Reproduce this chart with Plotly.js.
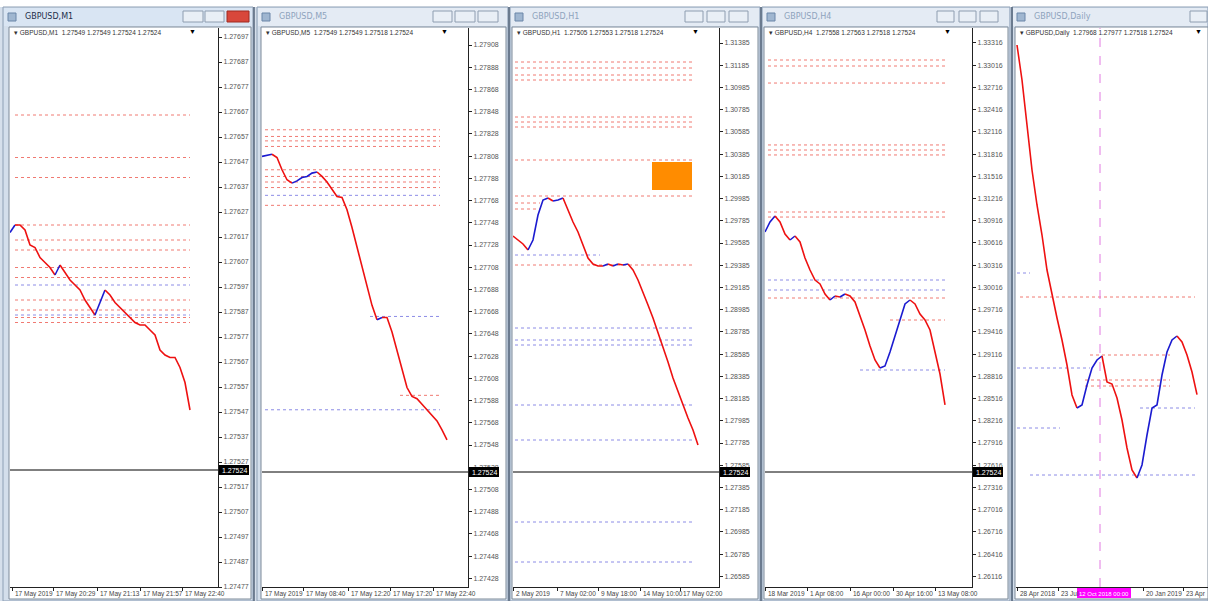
<!DOCTYPE html>
<html><head><meta charset="utf-8">
<script src="https://cdn.plot.ly/plotly-3.0.1.min.js"></script>
<style>html,body{margin:0;padding:0;background:#fff;}#chart{width:1208px;height:601px;}</style>
</head><body><div id="chart"></div>
<script>
// ---------------- DATA ----------------
const symbol = "GBPUSD";
const timeframes = ["M1", "M5", "H1", "H4", "Daily"];
const headerQuotes = [
  "1.27549 1.27549 1.27524 1.27524",
  "1.27549 1.27549 1.27518 1.27524",
  "1.27505 1.27553 1.27518 1.27524",
  "1.27558 1.27563 1.27518 1.27524",
  "1.27968 1.27977 1.27518 1.27524"
];
const bid = 1.27524;

// closing prices (one value per sampled bar)
const p1Close = [1.27619,1.27622,1.27622,1.27620,1.27614,1.27613,1.27609,1.27607,1.27605,1.27602,1.27606,1.27603,1.27600,1.27598,1.27596,1.27592,1.27589,1.27586,1.27591,1.27596,1.27594,1.27591,1.27589,1.27587,1.27585,1.27583,1.27582,1.27582,1.27580,1.27578,1.27572,1.27570,1.27569,1.27569,1.27565,1.27559,1.27548];
const p2Close = [1.27808,1.27809,1.27810,1.27807,1.27796,1.27787,1.27784,1.27786,1.27789,1.27790,1.27793,1.27794,1.27790,1.27785,1.27778,1.27772,1.27771,1.27760,1.27744,1.27726,1.27708,1.27692,1.27674,1.27661,1.27663,1.27663,1.27650,1.27634,1.27616,1.27600,1.27592,1.27590,1.27585,1.27580,1.27574,1.27570,1.27562,1.27553];
const p3Close = [1.29648,1.29612,1.29576,1.29522,1.29612,1.29837,1.29972,1.29990,1.29963,1.29972,1.29990,1.29882,1.29774,1.29684,1.29567,1.29450,1.29396,1.29378,1.29378,1.29396,1.29378,1.29396,1.29387,1.29396,1.29342,1.29252,1.29144,1.29027,1.28910,1.28784,1.28640,1.28514,1.28370,1.28244,1.28127,1.28010,1.27902,1.27767];
const p4Close = [1.30764,1.30899,1.30980,1.30899,1.30737,1.30656,1.30710,1.30629,1.30413,1.30251,1.30116,1.30062,1.29927,1.29846,1.29900,1.29887,1.29927,1.29900,1.29819,1.29644,1.29441,1.29225,1.29036,1.28928,1.28955,1.29144,1.29360,1.29603,1.29792,1.29846,1.29792,1.29657,1.29576,1.29441,1.29144,1.28847,1.28429];
const p5Close = [1.43485,1.41910,1.39885,1.37860,1.36285,1.34935,1.33360,1.32235,1.31200,1.30210,1.29085,1.27735,1.27150,1.27285,1.28185,1.28950,1.29310,1.29490,1.28320,1.28230,1.27600,1.26610,1.25350,1.24360,1.24000,1.24585,1.25935,1.27150,1.27285,1.28635,1.29670,1.30210,1.30390,1.30120,1.29535,1.28770,1.27750];

// horizontal levels: [price, fromBar, toBar]
const p1Res = [[1.27666,1,36],[1.27649,1,36],[1.27641,1,36],[1.27622,1,36],[1.27616,1,36],[1.27612,1,36],[1.27605,1,36],[1.27601,1,36],[1.27592,1,36],[1.27588,1,36],[1.27585,1,36],[1.27583,1,36]];
const p1Sup = [[1.27598,1,36],[1.27586,1,36]];
const p2Res = [[1.27832,0.6,35.6],[1.27826,0.6,35.6],[1.27822,0.6,35.6],[1.27817,0.6,35.6],[1.27796,0.6,35.6],[1.27790,0.6,35.6],[1.27785,0.6,35.6],[1.27780,0.6,35.6],[1.27764,0.6,35.6],[1.27593,27.6,35.6]];
const p2Sup = [[1.27773,0.6,35.6],[1.27664,21.6,35.6],[1.27580,0.6,35.6]];
const p3Res = [[1.31214,0.4,36.4],[1.31160,0.4,36.4],[1.31097,0.4,36.4],[1.31052,0.4,36.4],[1.30719,0.4,36.4],[1.30674,0.4,36.4],[1.30629,0.4,36.4],[1.30332,0.4,36.4],[1.30008,0.4,36.4],[1.29945,0.4,5.4],[1.29891,0.4,5.4],[1.29387,0.4,36.4]];
const p3Sup = [[1.29477,0.4,17.4],[1.28820,0.4,36.4],[1.28712,0.4,36.4],[1.28667,0.4,36.4],[1.28127,0.4,36.4],[1.27812,0.4,36.4],[1.27074,0.4,36.4],[1.26714,0.4,36.4]];
const p4Res = [[1.33086,0.6,36],[1.33005,0.6,36],[1.32775,0.6,36],[1.31939,0.6,36],[1.31871,0.6,36],[1.31804,0.6,36],[1.31034,0.6,36],[1.30966,0.6,36],[1.29873,0.6,36],[1.29576,25,36]];
const p4Sup = [[1.30116,0.6,36],[1.29981,0.6,36],[1.28901,19,36]];
const p5Res = [[1.32145,0.6,35.6],[1.29535,14.6,30.6],[1.28410,13.6,30.6],[1.28140,13.6,30.6]];
const p5Sup = [[1.33225,0,2.6],[1.28950,0,14.6],[1.27150,24.6,35.6],[1.26250,0,8.6],[1.24135,2.6,35.6]];

// orange rectangle object on H1 chart: [fromBar, toBar, lowPrice, highPrice]
const p3Rect = [27.8, 35.8, 1.30062, 1.30314];
// vertical period separator on Daily chart (bar) and its label
const p5VLineBar = 16.6;
const p5VLineLabel = "12 Oct 2018 00:00";

// time axis labels
const p1TickBars = [0.4, 8.6, 17.4, 26, 34.4];
const p1TickText = ["17 May 2019", "17 May 20:29", "17 May 21:13", "17 May 21:57", "17 May 22:40"];
const p2TickBars = [0, 8.2, 17.2, 25.6, 34.2];
const p2TickText = ["17 May 2019", "17 May 08:40", "17 May 12:20", "17 May 17:20", "17 May 22:40"];
const p3TickBars = [0, 8.8, 17, 25.4, 33.4];
const p3TickText = ["2 May 2019", "7 May 02:00", "9 May 18:00", "14 May 10:00", "17 May 02:00"];
const p4TickBars = [0, 8.4, 17, 25.6, 34];
const p4TickText = ["18 Mar 2019", "1 Apr 08:00", "16 Apr 00:00", "30 Apr 16:00", "13 May 08:00"];
const p5TickBars = [0, 8.2, 25.2, 33.2];
const p5TickText = ["28 Apr 2018", "23 Jul", "20 Jan 2019", "23 Apr"];

// ---------------- LAYOUT ----------------
const W = 1208, H = 601;
const fx = p => p / W, fy = p => 1 - p / H;
const PT = 28, PB = 587;
const RED = "#ee1111", BLUE = "#1b1bd0";
const RES_C = "#f07a72", SUP_C = "#8c8ce6";

const panels = [
  {close:p1Close,res:p1Res,sup:p1Sup,tb:p1TickBars,tt:p1TickText,left:10,right:218,xr:[0,41.6],yr:[1.274772,1.277008],tick0:1.276972,dtick:0.0001,bidOn:true,win:[3,253],client:[9,251],btn:[[183,203],[205,224],[227,249]],active:true},
  {close:p2Close,res:p2Res,sup:p2Sup,tb:p2TickBars,tt:p2TickText,left:262,right:468,xr:[0,41.2],yr:[1.274205,1.279236],tick0:1.279083,dtick:0.0002,bidOn:true,win:[257,508],client:[261,506],btn:[[433,452],[455,475],[478,498]]},
  {close:p3Close,res:p3Res,sup:p3Sup,tb:p3TickBars,tt:p3TickText,left:513,right:719,xr:[0,41.2],yr:[1.26489,1.3152],tick0:1.31385,dtick:0.002,bidOn:true,win:[510,760],client:[512,758],btn:[[685,703],[707,725],[729,748]]},
  {close:p4Close,res:p4Res,sup:p4Sup,tb:p4TickBars,tt:p4TickText,left:765,right:972,xr:[0,41.4],yr:[1.259715,1.33518],tick0:1.33316,dtick:0.003,bidOn:true,win:[762,1010],client:[764,1008],btn:[[937,954],[959,976],[980,998]]},
  {close:p5Close,res:p5Res,sup:p5Sup,tb:p5TickBars,tt:p5TickText,left:1016,right:1208,xr:[-0.2,38.2],yr:[1.19095,1.4425],tick0:1.44,dtick:0.01,bidOn:false,win:[1012,1208],client:[1015,1208],btn:[[1190,1207]]}
];

const data = [], shapes = [], annotations = [];
const layout = {
  width: W, height: H, margin: {l:0,r:0,t:0,b:0},
  paper_bgcolor: "#d5dfeb", plot_bgcolor: "#ffffff",
  showlegend: false, font: {family: "Liberation Sans, Arial, sans-serif", size: 7, color: "#333"}
};

// window chrome (below plots)
shapes.push({type:"rect",xref:"paper",yref:"paper",x0:0,x1:1,y0:fy(7),y1:1,fillcolor:"#ffffff",line:{width:0},layer:"below"});
panels.forEach((p) => {
  shapes.push({type:"rect",xref:"paper",yref:"paper",x0:fx(p.win[0]),x1:fx(p.win[1]),y0:0,y1:fy(7),fillcolor:"#d3deeb",line:{color:"#8d9fb5",width:1},layer:"below"});
  shapes.push({type:"rect",xref:"paper",yref:"paper",x0:fx(p.win[0]+1),x1:fx(p.win[1]-1),y0:fy(26),y1:fy(8),fillcolor:p.active?"#d9e5f3":"#e4ebf4",line:{width:0},layer:"below"});
  shapes.push({type:"rect",xref:"paper",yref:"paper",x0:fx(p.client[0]),x1:fx(p.client[1]),y0:fy(599),y1:fy(27),fillcolor:"#ffffff",line:{color:"#7d8a99",width:1},layer:"below"});
  p.btn.forEach((b, k) => {
    const close = p.active && k === 2;
    shapes.push({type:"rect",xref:"paper",yref:"paper",x0:fx(b[0]),x1:fx(b[1]),y0:fy(22),y1:fy(11),fillcolor:close?"#d8473b":"#e9eff6",line:{color:close?"#a02a20":"#8e9db0",width:1},layer:"below"});
  });
  shapes.push({type:"rect",xref:"paper",yref:"paper",x0:fx(p.win[0]+5),x1:fx(p.win[0]+13),y0:fy(21),y1:fy(13),fillcolor:"#9fb6d0",line:{color:"#6a86a8",width:1},layer:"below"});
});

panels.forEach((p, i) => {
  const s = i === 0 ? "" : String(i + 1);
  const xa = "xaxis" + s, ya = "yaxis" + s, xr = "x" + s, yr = "y" + s;
  layout[xa] = {
    domain:[fx(p.left), fx(p.right)], range:p.xr, anchor:yr, fixedrange:true,
    showgrid:false, zeroline:false, showline:true, linecolor:"#222", linewidth:1,
    ticks:"outside", ticklen:3, tickcolor:"#222", tickmode:"array", tickvals:p.tb,
    showticklabels:false
  };
  layout[ya] = {
    domain:[fy(PB), fy(PT)], range:p.yr, anchor:xr, side:"right", fixedrange:true,
    showgrid:false, zeroline:false, showline:true, linecolor:"#222", linewidth:1,
    ticks:"outside", ticklen:3, tickcolor:"#222", tick0:p.tick0, dtick:p.dtick, tickformat:".5f",
    showticklabels: i !== 4, tickfont:{size:7, color:"#555"}
  };
  // time labels: left-aligned just after their tick
  p.tb.forEach((b, k) => annotations.push({xref:xr, yref:"paper", x:b, y:fy(593.5), xanchor:"left", yanchor:"middle",
    xshift:1, showarrow:false, text:p.tt[k], font:{size:6.5, color:"#444"}}));
  // price line coloured by direction
  let cur = null;
  for (let j = 0; j < p.close.length - 1; j++) {
    const c = p.close[j + 1] > p.close[j] ? BLUE : RED;
    if (!cur || cur.c !== c) {
      cur = {c, x:[j], y:[p.close[j]]};
      data.push({type:"scatter", mode:"lines", xaxis:xr, yaxis:yr, x:cur.x, y:cur.y, line:{color:c, width:1.6}, hoverinfo:"skip"});
    }
    cur.x.push(j + 1); cur.y.push(p.close[j + 1]);
  }
  p.res.forEach(l => shapes.push({type:"line", xref:xr, yref:yr, x0:l[1], x1:l[2], y0:l[0], y1:l[0], line:{color:RES_C, width:1, dash:"dot"}, layer:"below"}));
  p.sup.forEach(l => shapes.push({type:"line", xref:xr, yref:yr, x0:l[1], x1:l[2], y0:l[0], y1:l[0], line:{color:SUP_C, width:1, dash:"dot"}, layer:"below"}));
  if (p.bidOn) {
    shapes.push({type:"line", xref:xr + " domain", yref:yr, x0:0, x1:1, y0:bid, y1:bid, line:{color:"#000", width:1}});
    shapes.push({type:"rect", xref:"paper", yref:yr, x0:fx(p.right + 1), x1:fx(p.right + 31), y0:bid - (p.yr[1]-p.yr[0])*5/559, y1:bid + (p.yr[1]-p.yr[0])*5/559, fillcolor:"#000", line:{width:0}});
    annotations.push({xref:"paper", yref:yr, x:fx(p.right + 2), y:bid, xanchor:"left", yanchor:"middle", text:bid.toFixed(5), showarrow:false, font:{size:7, color:"#fff"}});
  }
  // window title and header
  annotations.push({xref:"paper", yref:"paper", x:fx(p.win[0] + 20), y:fy(17), xanchor:"left", yanchor:"middle", showarrow:false,
    text:symbol + "," + timeframes[i], font:{size:8, color:p.active ? "#1d2f4a" : "#8ea3bd", family:"DejaVu Sans, sans-serif"}});
  annotations.push({xref:"paper", yref:"paper", x:fx(p.client[0] + 3), y:fy(33), xanchor:"left", yanchor:"middle", showarrow:false,
    text:"▾ " + symbol + "," + timeframes[i] + "  " + headerQuotes[i], font:{size:6.5, color:"#333"}});
  annotations.push({xref:"paper", yref:"paper", x:fx(Math.min(p.left + 182, 1199)), y:fy(32), xanchor:"center", yanchor:"middle", showarrow:false,
    text:"▼", font:{size:7, color:"#000"}});
});

// orange rectangle on H1
shapes.push({type:"rect", xref:"x3", yref:"y3", x0:p3Rect[0], x1:p3Rect[1], y0:p3Rect[2], y1:p3Rect[3], fillcolor:"#ff8c00", line:{width:0}});
// vertical separator on Daily
shapes.push({type:"line", xref:"x5", yref:"y5 domain", x0:p5VLineBar, x1:p5VLineBar, y0:0, y1:1, line:{color:"#e27be2", width:1, dash:"dash"}});
shapes.push({type:"rect", xref:"x5", yref:"paper", x0:p5VLineBar - 4.6, x1:p5VLineBar + 6.2, y0:fy(598), y1:fy(588), fillcolor:"#ff00ff", line:{width:0}});
annotations.push({xref:"x5", yref:"paper", x:p5VLineBar + 0.8, y:fy(593.5), xanchor:"center", yanchor:"middle", showarrow:false, text:p5VLineLabel, font:{size:6, color:"#ffffff"}});

// separators between windows
[254, 509, 761, 1012].forEach(x => shapes.push({type:"line", xref:"paper", yref:"paper", x0:fx(x), x1:fx(x), y0:0, y1:fy(7), line:{color:"#55657a", width:1.5}}));

layout.shapes = shapes;
layout.annotations = annotations;
Plotly.newPlot("chart", data, layout, {staticPlot:true, displayModeBar:false});
</script></body></html>
